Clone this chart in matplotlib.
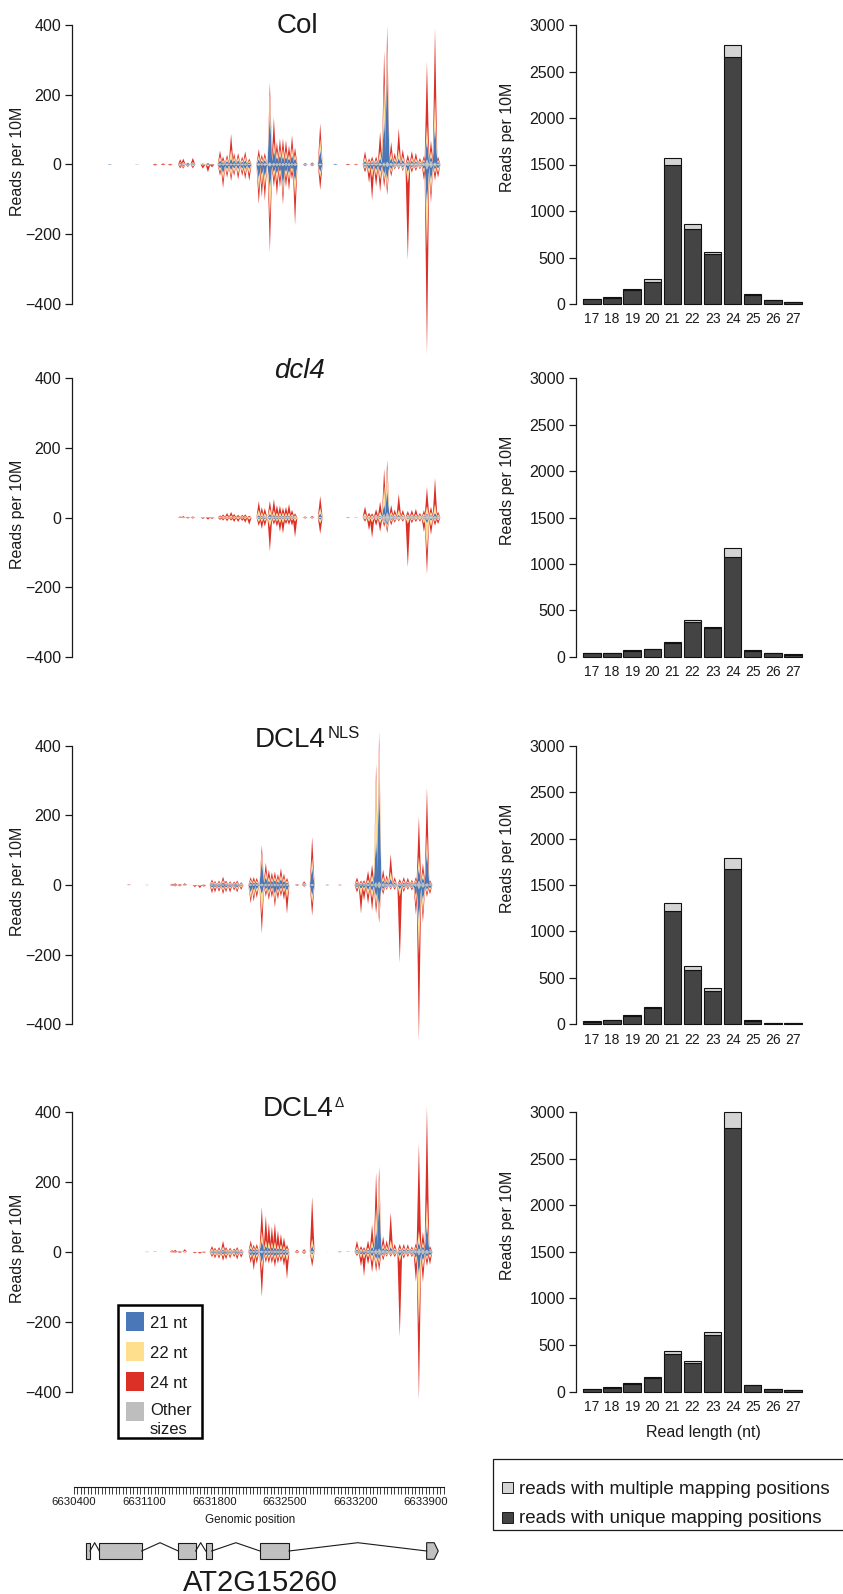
import numpy as np
import matplotlib.pyplot as plt
from matplotlib.patches import Rectangle, Polygon

plt.rcParams['font.family'] = ['Liberation Sans', 'DejaVu Sans']
plt.rcParams['text.color'] = '#1a1a1a'

# ---- sRNA coverage over AT2G15260 (reads per 10M), one spike per position ----
spike_pos = np.array([
    6630760, 6631030, 6631210, 6631290, 6631360, 6631460, 6631490, 6631535, 6631585, 6631685,
    6631735, 6631775, 6631855, 6631885, 6631925, 6631965, 6631995, 6632035, 6632075, 6632105,
    6632145, 6632240, 6632270, 6632300, 6632350, 6632390, 6632420, 6632450, 6632480, 6632510,
    6632540, 6632570, 6632600, 6632700, 6632770, 6632850, 6633000, 6633125, 6633205, 6633295,
    6633335, 6633365, 6633405, 6633445, 6633485, 6633515, 6633555, 6633590, 6633630, 6633670,
    6633720, 6633760, 6633800, 6633840, 6633880, 6633910, 6633950, 6633990, 6634020])

col_up21 = [1,0,0,0,0,3,2,1,3,0,0,0,10,5,8,15,10,10,6,10,5,12,8,10,150,40,20,25,20,20,15,25,15,1,1,40,2,0,0,8,4,5,5,15,130,280,15,8,15,10,5,8,6,3,5,60,15,115,5]
col_up22 = [0,1,0,0,0,2,3,1,3,1,1,0,10,5,7,25,8,8,6,10,4,10,7,8,45,20,15,15,20,15,10,20,10,1,1,30,0,0,1,10,4,5,5,20,100,50,15,8,25,10,5,9,8,4,5,40,15,75,5]
col_up24 = [0,0,2,3,2,8,10,3,12,2,3,2,17,10,10,45,12,12,8,15,6,18,10,12,35,70,25,30,30,30,25,35,20,2,3,45,0,2,1,17,7,10,10,55,90,60,30,14,60,20,15,18,16,8,10,180,30,195,10]
col_dn21 = [1,0,0,0,0,2,3,2,2,1,2,1,10,25,12,15,10,12,10,12,12,40,30,35,70,20,25,20,60,20,25,12,50,1,1,20,1,0,0,5,12,15,15,20,25,40,10,3,3,5,20,5,4,3,10,110,40,10,10]
col_dn22 = [0,0,0,0,0,2,3,2,3,2,4,1,8,15,10,15,10,12,8,12,13,30,25,25,80,15,20,15,20,15,15,10,40,1,1,15,0,0,0,5,12,20,15,20,15,20,8,3,3,5,30,5,4,3,10,120,30,10,10]
col_dn24 = [0,0,3,2,3,5,4,3,5,9,16,6,12,25,13,15,10,16,12,16,20,40,35,40,95,25,40,25,30,25,30,18,80,2,2,35,0,2,2,10,26,65,30,35,20,20,12,4,4,5,220,10,7,4,20,300,30,20,15]
col_oth = [0,1,0,0,0,2,2,0,1,0,0,0,3,3,3,3,3,3,3,3,2,4,4,4,6,5,5,5,5,5,5,4,4,1,1,3,0,0,0,3,3,3,3,4,6,8,5,4,4,4,4,4,4,4,5,15,10,6,3]

dcl4_up21 = [0,0,0,0,0,0,0,0,0,0,0,0,0,0,1,1,1,0,1,1,0,5,3,2,8,5,3,3,3,3,3,2,1,0,0,10,0,0,0,2,1,1,2,3,30,70,3,2,5,2,2,2,2,1,2,5,3,10,2]
dcl4_up22 = [0,0,0,0,0,1,1,0,1,0,0,0,2,3,3,4,2,2,2,2,1,15,10,8,15,12,8,8,8,7,8,6,3,1,1,15,0,0,0,8,3,3,5,10,50,55,8,6,15,5,4,5,5,3,5,20,8,25,5]
dcl4_up24 = [0,0,0,0,0,2,3,2,2,1,1,1,3,5,8,10,6,5,4,5,3,25,15,15,22,33,22,20,15,18,25,12,6,2,3,35,0,1,1,20,8,6,15,30,50,25,20,12,45,12,10,12,15,6,10,55,15,75,8]
dcl4_dn21 = [0,0,0,0,0,0,0,0,0,0,0,0,0,1,1,1,1,1,1,1,1,3,3,3,5,3,3,3,3,2,2,2,2,0,0,5,0,0,0,1,2,2,2,3,3,10,3,2,1,1,3,2,1,1,3,10,5,3,2]
dcl4_dn22 = [0,0,0,0,0,0,1,1,1,1,1,1,2,2,3,2,3,3,2,3,4,8,8,6,20,5,6,10,10,5,5,5,8,1,1,10,0,0,0,3,8,10,5,10,5,8,5,4,3,3,12,4,3,3,10,80,15,5,5]
dcl4_dn24 = [0,0,0,0,0,1,1,2,2,3,5,3,4,5,6,5,8,8,6,10,15,12,20,15,70,10,15,25,30,10,12,15,45,2,2,30,0,1,0,6,25,45,15,25,10,12,10,6,4,5,125,8,6,5,25,65,25,12,10]
dcl4_oth = [0,0,0,0,0,0,0,0,0,0,0,0,1,1,1,1,1,1,1,1,1,2,2,2,3,3,3,3,3,3,3,2,2,0,0,2,0,0,0,2,2,2,2,3,10,15,5,3,3,3,3,3,3,3,4,8,5,4,2]

nls_up21 = [0,0,0,0,0,1,1,0,1,0,0,0,4,3,3,6,3,2,2,3,1,6,5,5,70,20,10,10,12,8,15,10,5,1,2,50,1,0,0,5,3,3,5,10,130,300,10,8,15,5,3,5,4,3,5,40,15,100,3]
nls_up22 = [0,0,0,0,0,1,1,1,1,0,0,0,4,3,3,6,3,3,2,3,2,6,5,5,20,15,10,8,8,8,10,8,5,1,3,25,0,0,0,5,3,3,8,15,170,90,10,7,20,5,3,5,4,3,5,30,15,40,3]
nls_up24 = [0,1,0,0,0,2,3,2,3,0,0,1,6,4,5,10,5,4,4,5,3,8,10,8,20,25,20,15,15,12,20,12,8,1,5,60,0,1,0,10,5,6,25,30,40,40,20,10,50,10,8,10,10,5,8,115,25,135,5]
nls_dn21 = [0,0,0,0,0,1,1,1,0,1,1,1,6,5,6,8,6,5,4,6,3,20,15,10,25,10,15,10,25,15,10,10,15,1,1,30,1,0,0,5,10,8,12,15,30,60,8,3,3,3,10,5,3,3,30,100,40,10,8]
nls_dn22 = [0,0,0,0,0,1,1,1,1,1,2,1,6,5,4,7,5,5,4,6,3,15,15,10,55,8,10,8,15,8,8,10,20,1,1,20,0,0,0,5,20,10,15,20,20,20,5,3,3,3,20,5,3,3,20,90,30,8,6]
nls_dn24 = [0,0,0,0,0,1,2,2,1,4,6,3,10,10,8,10,8,10,6,8,6,15,15,15,55,12,15,15,20,15,12,20,45,1,2,35,0,1,0,10,50,25,25,35,25,20,10,4,4,5,190,8,5,6,30,245,30,12,10]
nls_oth = [0,1,1,0,0,0,0,0,0,0,0,0,2,2,2,2,2,2,2,2,2,3,3,3,4,4,4,4,4,4,4,3,3,0,1,3,0,0,0,2,2,2,3,4,8,10,5,4,4,3,3,3,3,4,5,12,8,5,3]

dlt_up21 = [0,0,0,0,0,1,1,0,1,0,0,0,3,2,3,5,3,2,2,3,1,8,5,5,30,15,10,12,10,8,8,6,3,1,1,15,0,0,0,5,3,3,4,12,60,150,8,6,10,4,4,5,4,3,5,20,10,80,3]
dlt_up22 = [0,0,1,0,1,1,1,1,2,0,0,0,4,3,3,8,3,3,2,3,2,8,5,5,25,15,15,12,15,10,10,8,5,2,2,20,1,0,0,8,4,3,6,15,60,50,10,8,20,5,5,5,5,3,5,30,10,65,3]
dlt_up24 = [0,0,0,1,0,3,4,2,5,0,0,1,8,5,6,17,6,5,4,6,3,14,8,10,70,70,55,45,55,40,30,25,10,3,4,120,0,1,1,17,8,6,20,48,100,35,22,16,80,11,11,10,10,6,10,250,30,265,8]
dlt_dn21 = [0,0,0,0,0,0,1,0,0,0,0,0,3,4,5,6,5,4,3,5,3,8,10,8,30,8,8,8,10,8,6,8,8,1,1,5,0,0,0,2,6,8,5,10,15,15,5,3,2,3,10,4,3,3,15,60,20,10,8]
dlt_dn22 = [0,0,0,0,0,1,1,1,1,1,1,1,4,5,5,6,5,5,4,5,4,8,12,8,20,8,8,8,10,8,8,10,15,1,1,15,0,0,0,3,10,10,8,15,15,10,5,3,3,3,15,5,3,3,15,140,20,8,8]
dlt_dn24 = [0,0,0,0,0,1,1,2,1,3,4,2,6,8,8,12,10,8,6,10,8,14,28,15,75,12,14,14,20,14,12,20,52,2,3,20,0,1,0,5,24,50,20,30,20,20,10,4,5,6,215,8,6,5,50,215,40,17,18]
dlt_oth = [0,0,1,0,0,0,0,0,0,0,0,0,2,2,2,2,2,2,2,2,2,3,3,3,4,4,4,4,4,4,4,3,3,0,1,3,0,0,0,2,2,2,3,4,8,10,5,4,4,3,3,3,3,4,5,10,8,6,3]

# ---- read length distributions (reads per 10M) ----
read_len = [17, 18, 19, 20, 21, 22, 23, 24, 25, 26, 27]
col_unique = [50, 60, 150, 240, 1495, 806, 534, 2659, 95, 38, 22]
col_multi = [5, 12, 8, 25, 78, 51, 21, 122, 9, 5, 3]
dcl4_unique = [38, 35, 65, 78, 150, 375, 305, 1079, 60, 38, 22]
dcl4_multi = [5, 4, 6, 8, 11, 25, 13, 89, 8, 5, 3]
nls_unique = [28, 42, 90, 180, 1217, 584, 362, 1668, 40, 12, 9]
nls_multi = [4, 4, 7, 10, 90, 39, 28, 126, 6, 2, 2]
dlt_unique = [28, 38, 85, 145, 401, 311, 609, 2828, 70, 25, 18]
dlt_multi = [4, 5, 5, 13, 39, 22, 28, 172, 5, 4, 3]

# ---- gene model ----
exon_start = [6630524, 6630656, 6631441, 6631713, 6632252, 6633907]
exon_end = [6630564, 6631077, 6631613, 6631772, 6632540, 6634022]
axis_ticks = np.arange(6630400, 6634100, 35)
axis_labels = [6630400, 6631100, 6631800, 6632500, 6633200, 6633900]

BLUE, YELLOW, RED, GREY = '#4a77b7', '#fddf8e', '#dc3027', '#bebebe'
DARK, LIGHT, INK = '#444444', '#d4d4d4', '#1a1a1a'

W, H = 843, 1594
fig = plt.figure(figsize=(W / 100, H / 100), dpi=100)


def add_ax(left, right, ytop, ybot, vtop, vbot, lo, hi):
    k = (ybot - ytop) / (vtop - vbot)
    top = ytop - (hi - vtop) * k
    bot = ybot + (vbot - lo) * k
    ax = fig.add_axes([left / W, 1 - bot / H, (right - left) / W, (bot - top) / H])
    ax.set_ylim(lo, hi)
    ax.patch.set_alpha(0)
    return ax


def ftext(x, y, s, **kw):
    return fig.text(x / W, 1 - y / H, s, **kw)


half_w = 24  # half width of a spike's base, bp


def draw_spikes(ax, layers_up, layers_dn):
    """Each position is a stacked triangle; taller spikes drawn last so they stay on top."""
    up = np.array(layers_up, float)
    dn = np.array(layers_dn, float)
    cols = [GREY, BLUE, YELLOW, RED]
    for sign, lay in ((1, up), (-1, dn)):
        for i in np.argsort(lay.sum(axis=0)):
            if lay[:, i].sum() == 0:
                continue
            p = spike_pos[i]
            ax.stackplot([p - half_w, p, p + half_w],
                         *[[0, sign * v, 0] for v in lay[:, i]], colors=cols, lw=0)


rows = [
    (col_up21, col_up22, col_up24, col_dn21, col_dn22, col_dn24, col_oth, col_unique, col_multi, 0),
    (dcl4_up21, dcl4_up22, dcl4_up24, dcl4_dn21, dcl4_dn22, dcl4_dn24, dcl4_oth, dcl4_unique, dcl4_multi, 0),
    (nls_up21, nls_up22, nls_up24, nls_dn21, nls_dn22, nls_dn24, nls_oth, nls_unique, nls_multi, 80),
    (dlt_up21, dlt_up22, dlt_up24, dlt_dn21, dlt_dn22, dlt_dn24, dlt_oth, dlt_unique, dlt_multi, 80),
]
row_y = [(25, 304), (378.3, 656.7), (745.7, 1024.3), (1112.3, 1391.5)]

for (u21, u22, u24, d21, d22, d24, oth, uniq, multi, shift), (yt, yb) in zip(rows, row_y):
    # coverage panel: plus strand up, minus strand down
    ax = add_ax(72, 447, yt, yb, 400, -400, -560, 460)
    draw_spikes(ax, [oth, u21, u22, u24], [oth, d21, d22, d24])
    ax.set_xlim(6630385 + shift, 6634109 + shift)
    for s in ['top', 'right', 'bottom']:
        ax.spines[s].set_visible(False)
    ax.spines['left'].set_bounds(-400, 400)
    ax.spines['left'].set_color(INK)
    ax.spines['left'].set_linewidth(0.9)
    ax.set_xticks([])
    ax.set_yticks([-400, -200, 0, 200, 400])
    ax.tick_params(axis='y', length=5, width=0.9, labelsize=11.5, pad=3,
                   color=INK, labelcolor=INK)
    ftext(18, (yt + yb) / 2 - 3.5, 'Reads per 10M', rotation=90, ha='center',
          va='center', fontsize=11.5)

    # read length panel
    bx = add_ax(576, 805, yt, yb, 3000, 0, 0, 3000)
    x = np.arange(len(read_len))
    bx.bar(x, uniq, width=0.87, color=DARK, edgecolor='#111111', lw=0.8, clip_on=False)
    bx.bar(x, multi, width=0.87, bottom=uniq, color=LIGHT, edgecolor='#111111', lw=0.8,
           clip_on=False)
    bx.set_xlim(-0.796, 10.6)
    for s in ['top', 'right', 'bottom']:
        bx.spines[s].set_visible(False)
    bx.spines['left'].set_bounds(0, 3000)
    bx.spines['left'].set_color(INK)
    bx.spines['left'].set_linewidth(0.9)
    bx.set_yticks([0, 500, 1000, 1500, 2000, 2500, 3000])
    bx.set_xticks(x)
    bx.set_xticklabels(read_len)
    bx.tick_params(axis='y', length=5, width=0.9, labelsize=11.5, pad=3,
                   color=INK, labelcolor=INK)
    bx.tick_params(axis='x', length=0, labelsize=10, pad=6, labelcolor=INK)
    ftext(508, (yt + yb) / 2 - 27, 'Reads per 10M', rotation=90, ha='center',
          va='center', fontsize=11.5)

# panel titles
ftext(297.5, 33.3, 'Col', ha='center', va='baseline', fontsize=20)
ftext(299.5, 378.3, 'dcl4', ha='center', va='baseline', fontsize=20, fontstyle='italic')
ftext(326, 747.3, 'DCL4', ha='right', va='baseline', fontsize=20)
ftext(328, 738.3, 'NLS', ha='left', va='baseline', fontsize=12)
ftext(333.3, 1115.7, 'DCL4', ha='right', va='baseline', fontsize=20)
ftext(335, 1106.7, '\u0394', ha='left', va='baseline', fontsize=10)
ftext(703, 1433, 'Read length (nt)', ha='center', va='center', fontsize=11.5)

# overlay in pixel units for the two keys
lay = fig.add_axes([0, 0, 1, 1], zorder=5)
lay.set_xlim(0, W)
lay.set_ylim(H, 0)
lay.axis('off')

lay.add_patch(Rectangle((117.7, 1305), 84, 133, fc='white', ec='black', lw=1.8))
size_names = ['21 nt', '22 nt', '24 nt', 'Other']
size_cols = [BLUE, YELLOW, RED, GREY]
for i, (name, c) in enumerate(zip(size_names, size_cols)):
    top = 1312 + 30 * i
    lay.add_patch(Rectangle((125.7, top), 18.6, 18.6, fc=c, ec='none'))
    lay.text(150, top + 16.3 if i < 3 else 1415, name, ha='left', va='baseline', fontsize=12)
lay.text(150, 1434, 'sizes', ha='left', va='baseline', fontsize=12)

lay.add_patch(Rectangle((493, 1459), 352, 71, fc='white', ec=INK, lw=0.9))
lay.add_patch(Rectangle((501.7, 1481.5), 11.6, 11.6, fc=LIGHT, ec=INK, lw=0.7))
lay.add_patch(Rectangle((501.7, 1511.5), 11.6, 11.6, fc=DARK, ec=INK, lw=0.7))
lay.text(519.3, 1493.5, 'reads with multiple mapping positions', ha='left', va='baseline',
         fontsize=13.5)
lay.text(519.3, 1523, 'reads with unique mapping positions', ha='left', va='baseline',
         fontsize=13.5)

# genomic axis and gene structure (x in bp, y in pixels)
gax = fig.add_axes([72 / W, 0, 375 / W, 124 / H])
gax.set_xlim(6630385, 6634109)
gax.set_ylim(1594, 1470)
gax.axis('off')
gax.plot([axis_ticks[0], axis_ticks[-1]], [1487, 1487], color=INK, lw=0.8)
gax.vlines(axis_ticks, 1487, 1494, color=INK, lw=0.6)
for t in axis_labels:
    gax.text(t, 1502, str(t), ha='center', va='center', fontsize=8.2)
gax.text(np.mean(axis_labels), 1520, 'Genomic position', ha='center', va='center', fontsize=8.4)

top_y, mid_y, bot_y = 1542.7, 1551, 1559.3
for i, (s, e) in enumerate(zip(exon_start, exon_end)):
    if i < len(exon_start) - 1:
        gax.add_patch(Rectangle((s, top_y), e - s, bot_y - top_y, fc='#c0c0c0', ec=INK, lw=0.8))
        nxt = exon_start[i + 1]
        gax.plot([e, (e + nxt) / 2, nxt], [mid_y, top_y, mid_y], color=INK, lw=0.8)
    else:
        body = e - 40
        gax.add_patch(Polygon([(s, top_y), (body, top_y), (e, mid_y), (body, bot_y), (s, bot_y)],
                              closed=True, fc='#c0c0c0', ec=INK, lw=0.8))

ftext(260, 1591, 'AT2G15260', ha='center', va='baseline', fontsize=21)

fig.savefig('out.png', dpi=100)
